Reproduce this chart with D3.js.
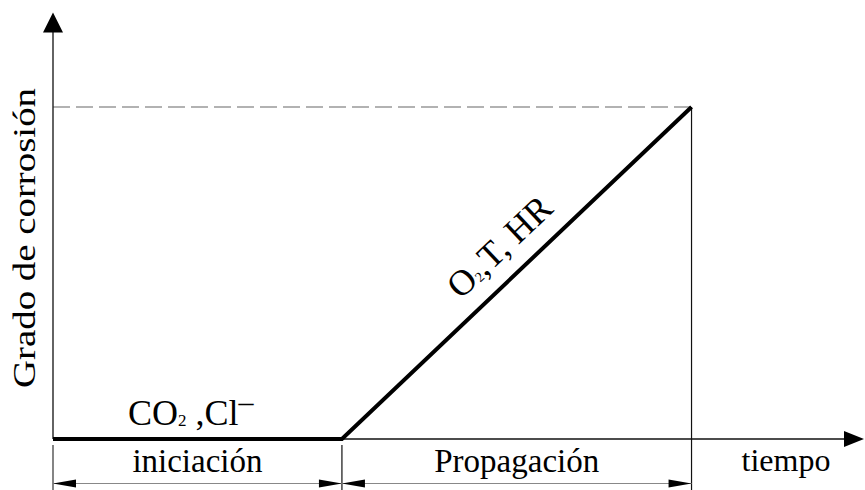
<!DOCTYPE html>
<html><head><meta charset="utf-8">
<script src="https://cdn.jsdelivr.net/npm/d3@7/dist/d3.min.js"></script>
<style>html,body{margin:0;padding:0;background:#fff;font-family:"Liberation Serif",serif}svg{display:block}</style>
</head><body>
<svg id="chart" width="865" height="490" font-family="Liberation Serif"></svg>
<script>
// ---- data ----
const phases = ["iniciación", "Propagación"];
const phaseBounds = [0, 1, 2.21];          // time at phase boundaries
const curveTime = [0, 1, 2.21];            // corrosion curve, time
const curveDamage = [0, 0, 1];             // corrosion curve, degree
const timeMax = 2.8;
const damageMax = 1.285;
const yLabel = "Grado de corrosión";
const xLabel = "tiempo";
const initAgents = ["CO", "2", " ,Cl", "\u2012"];
const propAgents = ["O", "2", ",T, HR"];

const FONT = "Liberation Serif";
const svg = d3.select("#chart");
const x = d3.scaleLinear().domain([0, timeMax]).range([53, 862]);
const y = d3.scaleLinear().domain([0, 1]).range([439, 107]);

function txt(sel) { return sel.append("text").attr("font-family", FONT).style("font-family", FONT); }

// dashed reference level
svg.append("line")
  .attr("x1", x(0)).attr("x2", x(phaseBounds[2]))
  .attr("y1", y(1)).attr("y2", y(1))
  .attr("stroke", "#666").attr("stroke-width", 1.2)
  .attr("stroke-dasharray", "17,6");

// axes
svg.append("line").attr("x1", x(0)).attr("x2", x(0))
  .attr("y1", y(0)).attr("y2", y(damageMax) + 18)
  .attr("stroke", "#222").attr("stroke-width", 1.4);
svg.append("path")
  .attr("d", `M${x(0)},${y(damageMax)} L${x(0) - 10},${y(damageMax) + 20} L${x(0) + 10},${y(damageMax) + 20} Z`)
  .attr("fill", "#000");
svg.append("line").attr("x1", x(0)).attr("x2", 846)
  .attr("y1", y(0)).attr("y2", y(0))
  .attr("stroke", "#111").attr("stroke-width", 1.4);
svg.append("path")
  .attr("d", `M864,${y(0)} L844,${y(0) - 8} L844,${y(0) + 8} Z`)
  .attr("fill", "#000");

// extension lines
const dimY = 483.5;
svg.append("line").attr("x1", x(phaseBounds[0])).attr("x2", x(phaseBounds[0]))
  .attr("y1", y(0) + 6).attr("y2", 490).attr("stroke", "#333").attr("stroke-width", 1.2);
svg.append("line").attr("x1", x(phaseBounds[1])).attr("x2", x(phaseBounds[1]))
  .attr("y1", y(0) + 6).attr("y2", 490).attr("stroke", "#111").attr("stroke-width", 1.2);
svg.append("line").attr("x1", x(phaseBounds[2])).attr("x2", x(phaseBounds[2]))
  .attr("y1", y(1)).attr("y2", 490).attr("stroke", "#111").attr("stroke-width", 1.2);

// dimension arrows
phases.forEach((p, i) => {
  const a = x(phaseBounds[i]), b = x(phaseBounds[i + 1]);
  svg.append("line").attr("x1", a).attr("x2", b).attr("y1", dimY).attr("y2", dimY)
    .attr("stroke", "#888").attr("stroke-width", 1);
  svg.append("path").attr("d", `M${a},${dimY} L${a + 23},${dimY - 4} L${a + 23},${dimY + 4} Z`).attr("fill", "#000");
  svg.append("path").attr("d", `M${b},${dimY} L${b - 23},${dimY - 4} L${b - 23},${dimY + 4} Z`).attr("fill", "#000");
  txt(svg).attr("x", (a + b) / 2).attr("y", 472)
    .attr("text-anchor", "middle").attr("font-size", 33)
    .text(p);
});
txt(svg).attr("x", 786).attr("y", 471).attr("text-anchor", "middle")
  .attr("font-size", 32).text(xLabel);

// curve
const line = d3.line().x(d => x(d[0])).y(d => y(d[1]));
svg.append("path").datum(curveTime.map((t, i) => [t, curveDamage[i]]))
  .attr("d", line).attr("fill", "none").attr("stroke", "#000")
  .attr("stroke-width", 4).attr("stroke-linejoin", "miter");

// y label
txt(svg).attr("transform", `translate(35,238) rotate(-90)`)
  .attr("text-anchor", "middle").attr("font-size", 32)
  .attr("textLength", 300).attr("lengthAdjust", "spacingAndGlyphs")
  .text(yLabel);

// initiation agents
const t1 = txt(svg).attr("x", 128).attr("y", 425).attr("font-size", 36);
t1.append("tspan").text(initAgents[0]);
t1.append("tspan").attr("font-size", 17).attr("dy", 1).text(initAgents[1]);
t1.append("tspan").attr("dy", -1).text(initAgents[2]);
t1.append("tspan").attr("dy", -13).attr("font-size", 30).text(initAgents[3]);

// propagation agents, along the slope
const ax = x(phaseBounds[1]), ay = y(0), bx = x(phaseBounds[2]), by = y(1);
const len = Math.hypot(bx - ax, by - ay);
const ux = (bx - ax) / len, uy = (by - ay) / len;
const ang = Math.atan2(by - ay, bx - ax) * 180 / Math.PI;
const along = 182, perp = 19;
const px = ax + ux * along + uy * perp, py = ay + uy * along - ux * perp;
const t2 = txt(svg).attr("transform", `translate(${px},${py}) rotate(${ang})`)
  .attr("font-size", 36);
t2.append("tspan").text(propAgents[0]);
t2.append("tspan").attr("font-size", 14).attr("dy", 1).text(propAgents[1]);
t2.append("tspan").attr("dy", -1).text(propAgents[2]);
</script>
</body></html>
